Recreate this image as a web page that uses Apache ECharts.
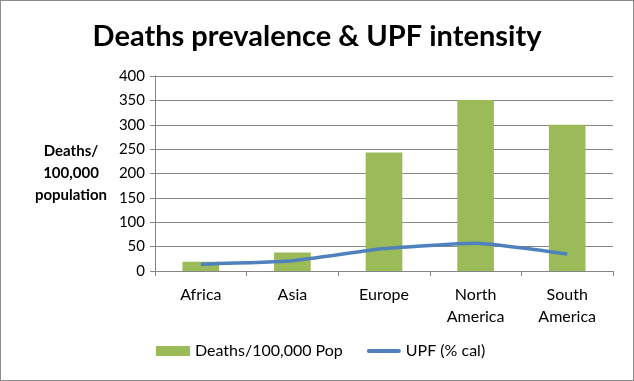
<!DOCTYPE html>
<html><head><meta charset="utf-8">
<script src="https://cdn.jsdelivr.net/npm/echarts@6/dist/echarts.min.js"></script>
<style>html,body{margin:0;padding:0;background:#fff}#c{width:634px;height:381px;box-sizing:border-box;border:1px solid #8c8c8c}</style>
</head><body><div id="c"></div>
<script>
const categories = ['Africa', 'Asia', 'Europe', 'North\nAmerica', 'South\nAmerica'];
const deaths = [19, 38, 243, 351, 300];
const upf = [14, 21, 46, 57, 35];
const yTicks = [0, 50, 100, 150, 200, 250, 300, 350, 400];

const FONT = 'Lato, "Open Sans", sans-serif';
const chart = echarts.init(document.getElementById('c'));
chart.setOption({
  animation: false,
  textStyle: { fontFamily: FONT },
  title: { text: 'Deaths prevalence & UPF intensity', left: 'center', top: 16,
    textStyle: { fontFamily: FONT, fontWeight: 'bold', fontSize: 29, color: '#000' } },
  grid: { left: 154, right: 20, top: 75, bottom: 109 },
  legend: { bottom: 16, left: 150, itemGap: 24, itemWidth: 34, itemHeight: 10,
    textStyle: { fontFamily: FONT, fontSize: 16, color: '#000' },
    data: [{ name: 'Deaths/100,000 Pop', icon: 'rect' },
           { name: 'UPF (% cal)', icon: 'path://M2,0 L32,0 A2,2 0 0 1 32,4 L2,4 A2,2 0 0 1 2,0 Z' }] },
  xAxis: { type: 'category', data: categories,
    axisLine: { lineStyle: { color: '#868686' } },
    axisTick: { show: true, length: 5, lineStyle: { color: '#868686' } },
    axisLabel: { color: '#000', fontSize: 16, margin: 13, lineHeight: 22, fontFamily: FONT } },
  yAxis: { type: 'value', min: yTicks[0], max: yTicks[yTicks.length - 1], interval: 50,
    name: 'Deaths/\n100,000\npopulation', nameLocation: 'middle', nameRotate: 0, nameGap: 84,
    nameTextStyle: { align: 'center', fontWeight: 'bold', fontSize: 15, lineHeight: 22, color: '#000', fontFamily: FONT },
    axisLine: { show: true, lineStyle: { color: '#868686' } },
    axisTick: { show: true, length: 5, lineStyle: { color: '#868686' } },
    splitLine: { lineStyle: { color: '#868686' } },
    axisLabel: { color: '#000', fontSize: 15, margin: 10, fontFamily: FONT } },
  series: [
    { name: 'Deaths/100,000 Pop', type: 'bar', data: deaths, barWidth: '40%',
      itemStyle: { color: '#9BBB59' } },
    { name: 'UPF (% cal)', type: 'line', data: upf, smooth: 0.15, symbol: 'none',
      lineStyle: { color: '#4F81BD', width: 3.5 }, itemStyle: { color: '#4F81BD' } }
  ]
});
</script></body></html>
